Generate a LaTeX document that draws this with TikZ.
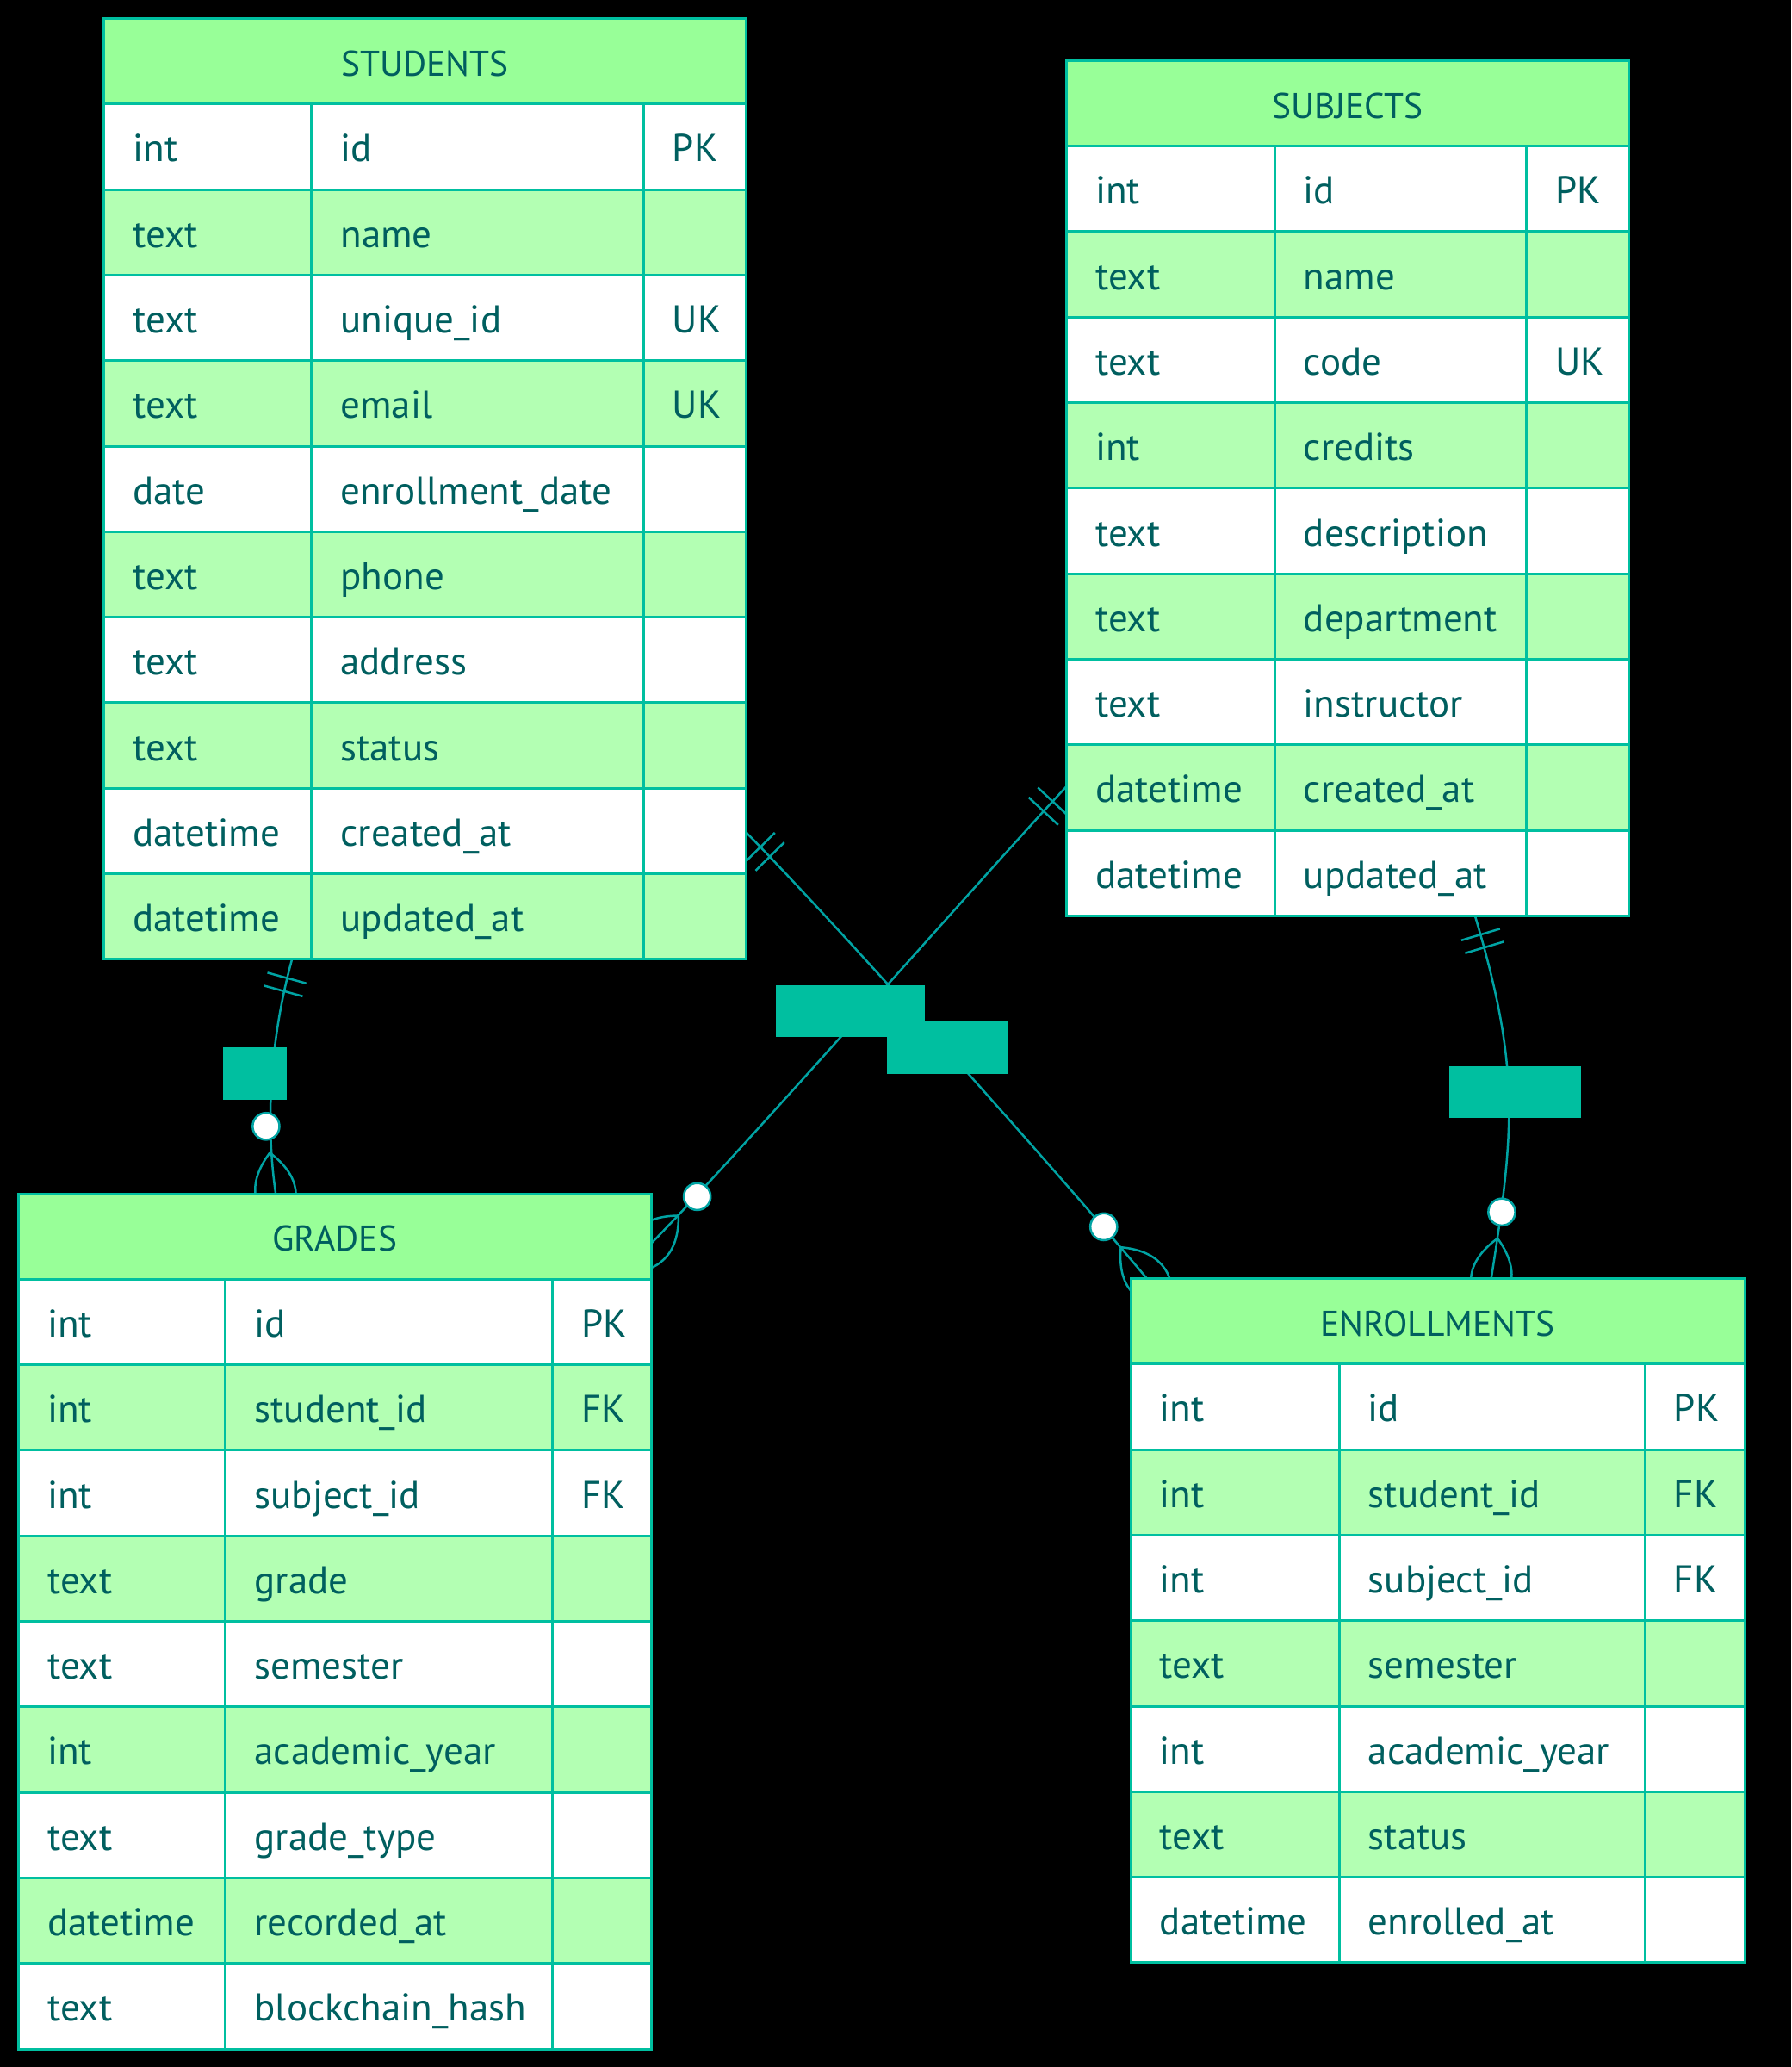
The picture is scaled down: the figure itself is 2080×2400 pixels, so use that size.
\documentclass[tikz,border=0pt]{standalone}
\usepackage{fontspec}
\setmainfont{PT Sans}
\usetikzlibrary{calc}
\definecolor{bordc}{HTML}{00BFA0}
\definecolor{linec}{HTML}{00A3A3}
\definecolor{headc}{HTML}{98FF98}
\definecolor{rowc}{HTML}{B3FFB3}
\definecolor{txtc}{HTML}{005F5F}
\definecolor{labc}{HTML}{00BFA0}
\tikzset{
  cell/.style={anchor=base west, inner sep=0pt, text=txtc, font=\fontsize{45}{52}\selectfont},
  headtxt/.style={anchor=base, inner sep=0pt, text=txtc, font=\fontsize{41.5}{50}\selectfont},
  tabline/.style={draw=bordc, line width=3pt},
  edge/.style={draw=linec, line width=2.5pt},
  labbox/.style={fill=labc, draw=none, inner sep=0pt},
  zcirc/.style={draw=linec, fill=white, line width=2.5pt},
}
% #1 name #2 x0 #3 x1 #4 x2 #5 x3 #6 ytop #7 nrows #8 title #9 rows
\newcommand\mkentity[9]{%
  \fill[headc] (#2,#6) rectangle (#5,#6+99.3);
  \node[headtxt] (#1-title) at ({(#2+#5)/2},#6+49.65+17) {#8};
  \foreach \ty/\nm/\ky [count=\i] in {#9} {%
    \ifodd\i\relax\def\rc{white}\else\def\rc{rowc}\fi
    \fill[\rc] (#2,{#6+99.3*\i}) rectangle (#5,{#6+99.3*(\i+1)});
    \node[cell] (#1-ty\i) at (#2+33.7,{#6+99.3*\i+49.65+17.5}) {\ty};
    \node[cell] (#1-nm\i) at (#3+33.7,{#6+99.3*\i+49.65+17.5}) {\nm};
    \node[cell] (#1-ky\i) at (#4+33.7,{#6+99.3*\i+49.65+17.5}) {\ky};
  }
  \foreach \k in {1,...,#7} {\draw[tabline] (#2,{#6+99.3*\k}) -- (#5,{#6+99.3*\k});}
  \draw[tabline] (#3,#6+99.3) -- (#3,{#6+99.3*(#7+1)});
  \draw[tabline] (#4,#6+99.3) -- (#4,{#6+99.3*(#7+1)});
  \draw[tabline] (#2,#6) rectangle (#5,{#6+99.3*(#7+1)});
}
% bars at start #1 toward #2
\newcommand\onebars[2]{%
  \foreach \dd in {23.4,39} {%
    \coordinate (bc) at ($(#1)!\dd pt!(#2)$);
    \draw[edge] ($(bc)!23.4pt!90:(#2)$) -- ($(bc)!23.4pt!-90:(#2)$);
  }
}
% crow foot + circle at end #1, outward point #2
\newcommand\crowzero[2]{%
  \coordinate (cwA) at ($(#1)!47pt!(#2)$);
  \coordinate (cwB) at ($(#1)!-47pt!(#2)$);
  \coordinate (cwP) at ($(#1)!47pt!90:(#2)$);
  \coordinate (cwM) at ($(#1)!47pt!-90:(#2)$);
  \draw[edge] (cwA) .. controls ($(cwA)!2/3!(cwP)$) and ($(cwB)!2/3!(cwP)$) .. (cwB)
     .. controls ($(cwB)!2/3!(cwM)$) and ($(cwA)!2/3!(cwM)$) .. (cwA);
  \draw[zcirc] ($(#1)!78pt!(#2)$) circle[radius=15.6];
}
\begin{document}
\begin{tikzpicture}[x=1pt,y=-1pt]
\useasboundingbox (0,0) rectangle (2080,2400);
\fill[black] (0,0) rectangle (2080,2400);
% connectors
\coordinate (s1) at (339.3,1113);   \coordinate (s1c) at (315.4,1199.8);
\coordinate (e1c) at (307.2,1295.9); \coordinate (e1) at (320,1385);
\coordinate (s2) at (866.7,966.7);  \coordinate (s2c) at (972,1073.5);
\coordinate (e2c) at (1235.7,1369.1); \coordinate (e2) at (1331.7,1484.3);
\coordinate (s3) at (1238.3,913.3); \coordinate (s3c) at (1136,1023.1);
\coordinate (e3c) at (860,1338);    \coordinate (e3) at (755,1445);
\coordinate (s4) at (1712.7,1062.7); \coordinate (s4c) at (1764,1235.1);
\coordinate (e4c) at (1760,1306.5); \coordinate (e4) at (1731.7,1484.3);
\draw[edge] (s1) .. controls (s1c) and (e1c) .. (e1);
\draw[edge] (s2) .. controls (s2c) and (e2c) .. (e2);
\draw[edge] (s3) .. controls (s3c) and (e3c) .. (e3);
\draw[edge] (s4) .. controls (s4c) and (e4c) .. (e4);
\onebars{s1}{s1c}
\onebars{s2}{s2c}
\onebars{s3}{s3c}
\onebars{s4}{s4c}
\crowzero{e1}{e1c}
\crowzero{e2}{e2c}
\crowzero{e3}{e3c}
\crowzero{e4}{e4c}
% labels
\node[labbox, minimum width=73.4pt, minimum height=60.7pt] (l1) at (296,1246.35) {};
\node[labbox, minimum width=172.7pt, minimum height=59.7pt] (l3) at (987.35,1173.85) {};
\node[labbox, minimum width=140pt, minimum height=60.7pt] (l2) at (1100,1216.35) {};
\node[labbox, minimum width=152.7pt, minimum height=60pt] (l4) at (1759.65,1268.3) {};
% entities
\mkentity{students}{120.5}{361.5}{747}{866.5}{21.5}{10}{STUDENTS}{int/id/PK, text/name/{}, text/unique\_id/UK, text/email/UK, date/enrollment\_date/{}, text/phone/{}, text/address/{}, text/status/{}, datetime/created\_at/{}, datetime/updated\_at/{}}
\mkentity{subjects}{1238.3}{1480}{1772.3}{1891}{70.4}{9}{SUBJECTS}{int/id/PK, text/name/{}, text/code/UK, int/credits/{}, text/description/{}, text/department/{}, text/instructor/{}, datetime/created\_at/{}, datetime/updated\_at/{}}
\mkentity{grades}{21.4}{261.7}{641.3}{756}{1386}{9}{GRADES}{int/id/PK, int/student\_id/FK, int/subject\_id/FK, text/grade/{}, text/semester/{}, int/academic\_year/{}, text/grade\_type/{}, datetime/recorded\_at/{}, text/blockchain\_hash/{}}
\mkentity{enrollments}{1313}{1555}{1910}{2026.4}{1484.5}{7}{ENROLLMENTS}{int/id/PK, int/student\_id/FK, int/subject\_id/FK, text/semester/{}, int/academic\_year/{}, text/status/{}, datetime/enrolled\_at/{}}
\end{tikzpicture}
\end{document}
